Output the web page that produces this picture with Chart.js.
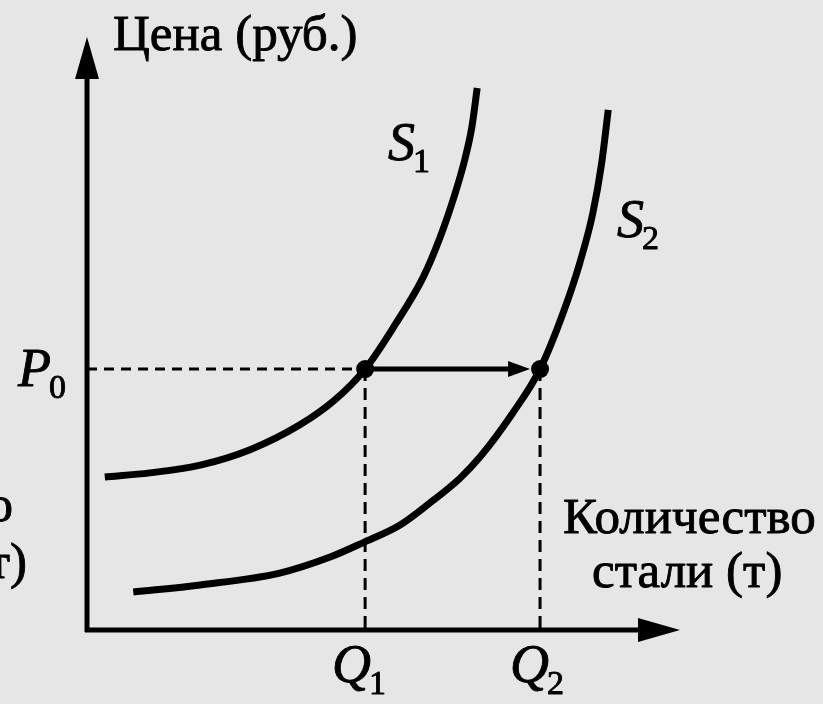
<!DOCTYPE html>
<html>
<head>
<meta charset="utf-8">
<script src="https://cdn.jsdelivr.net/npm/chart.js@4/dist/chart.umd.min.js"></script>
<style>
  html, body { margin: 0; padding: 0; background: #e6e6e6; }
  #wrap { width: 823px; height: 704px; }
</style>
</head>
<body>
<div id="wrap"><canvas id="supply"></canvas></div>
<script>
// кривые предложения (Q, P) в условных единицах
var s1Q = [0.30, 1.06, 1.91, 2.75, 3.59, 4.18, 4.69, 5.19, 5.67, 5.95, 6.21, 6.37, 6.49, 6.58];
var s1P = [2.58, 2.65, 2.78, 3.04, 3.46, 3.88, 4.40, 5.14, 5.95, 6.61, 7.37, 7.93, 8.48, 9.14];
var s2Q = [0.78, 1.91, 3.25, 4.10, 4.65, 5.28, 5.78, 6.29, 6.63, 7.18, 7.64, 8.03, 8.31, 8.53, 8.68, 8.79];
var s2P = [0.64, 0.76, 0.96, 1.23, 1.47, 1.77, 2.14, 2.56, 2.92, 3.66, 4.40, 5.35, 6.19, 7.03, 7.88, 8.77];

var p0 = 4.40;
var q1 = 4.69;
var q2 = 7.64;

var serif = '"Liberation Serif", "DejaVu Serif", serif';

function pts(xs, ys) {
  return xs.map(function (x, i) { return { x: x, y: ys[i] }; });
}

var diagram = {
  id: 'diagram',
  beforeDatasetsDraw: function (chart) {
    var c = chart.ctx, xs = chart.scales.x, ys = chart.scales.y;
    var x0 = xs.getPixelForValue(0), y0 = ys.getPixelForValue(0);
    var xEnd = xs.getPixelForValue(10), yEnd = ys.getPixelForValue(10);
    c.save();
    c.strokeStyle = '#000';
    c.fillStyle = '#000';
    c.lineWidth = 5;
    c.lineCap = 'butt';
    // ось цены
    c.beginPath();
    c.moveTo(x0, y0 + 2);
    c.lineTo(x0, yEnd + 30);
    c.stroke();
    c.beginPath();
    c.moveTo(x0, yEnd);
    c.lineTo(x0 - 12, yEnd + 42);
    c.lineTo(x0 + 12, yEnd + 42);
    c.closePath();
    c.fill();
    // ось количества
    c.beginPath();
    c.moveTo(x0 - 2, y0);
    c.lineTo(xEnd - 30, y0);
    c.stroke();
    c.beginPath();
    c.moveTo(xEnd, y0);
    c.lineTo(xEnd - 42, y0 - 12);
    c.lineTo(xEnd - 42, y0 + 12);
    c.closePath();
    c.fill();
    c.restore();
  },
  afterDatasetsDraw: function (chart) {
    var c = chart.ctx, xs = chart.scales.x, ys = chart.scales.y;
    var yP = ys.getPixelForValue(p0);
    var a = xs.getPixelForValue(q1), b = xs.getPixelForValue(q2) - 10;
    c.save();
    c.fillStyle = '#000';
    c.strokeStyle = '#000';
    // стрелка сдвига
    c.lineWidth = 5;
    c.beginPath();
    c.moveTo(a, yP);
    c.lineTo(b - 18, yP);
    c.stroke();
    c.beginPath();
    c.moveTo(b, yP);
    c.lineTo(b - 22, yP - 8);
    c.lineTo(b - 22, yP + 8);
    c.closePath();
    c.fill();

    // чуть утолщённый шрифт, как в печатном оригинале
    c.lineWidth = 0.9;
    c.lineJoin = 'round';
    function txt(s, x, y) {
      c.fillText(s, x, y);
      c.strokeText(s, x, y);
    }
    function sub(letter, index, x, y) {
      c.font = 'italic 54px ' + serif;
      c.textAlign = 'left';
      txt(letter, x, y);
      var w = c.measureText(letter).width;
      c.font = '34px ' + serif;
      txt(index, x + w - 2, y + 12);
    }
    c.textBaseline = 'alphabetic';
    sub('P', '0', 18, yP + 17);
    sub('Q', '1', a - 33, 682);
    sub('Q', '2', xs.getPixelForValue(q2) - 30, 682);
    sub('S', '1', 388, 160);
    sub('S', '2', 617, 237);

    c.font = '51px ' + serif;
    c.textAlign = 'left';
    txt('Цена (руб.)', 113, 50);
    txt('Количество', 563, 533);
    txt('стали (т)', 592, 587);
    c.textAlign = 'right';
    txt('Количество', 13, 521);
    txt('стали (т)', 27, 578);
    c.restore();
  }
};

new Chart(document.getElementById('supply'), {
  type: 'scatter',
  data: {
    datasets: [
      {
        label: 'S1',
        data: pts(s1Q, s1P),
        showLine: true,
        borderColor: '#000',
        borderWidth: 7,
        pointRadius: 0,
        cubicInterpolationMode: 'monotone'
      },
      {
        label: 'S2',
        data: pts(s2Q, s2P),
        showLine: true,
        borderColor: '#000',
        borderWidth: 7,
        pointRadius: 0,
        cubicInterpolationMode: 'monotone'
      },
      {
        label: 'P0',
        data: [{ x: 0, y: p0 }, { x: q1, y: p0 }],
        showLine: true,
        borderColor: '#000',
        borderWidth: 3,
        borderDash: [10, 7],
        pointRadius: 0
      },
      {
        label: 'Q1',
        data: [{ x: q1, y: p0 }, { x: q1, y: 0 }],
        showLine: true,
        borderColor: '#000',
        borderWidth: 3,
        borderDash: [12, 7],
        pointRadius: 0
      },
      {
        label: 'Q2',
        data: [{ x: q2, y: p0 }, { x: q2, y: 0 }],
        showLine: true,
        borderColor: '#000',
        borderWidth: 3,
        borderDash: [12, 7],
        pointRadius: 0
      },
      {
        label: 'E',
        data: [{ x: q1, y: p0 }, { x: q2, y: p0 }],
        showLine: false,
        pointRadius: 9,
        pointBackgroundColor: '#000',
        pointBorderWidth: 0
      }
    ]
  },
  options: {
    responsive: true,
    maintainAspectRatio: false,
    animation: false,
    layout: { padding: { left: 87, right: 143, top: 37, bottom: 74 } },
    plugins: { legend: { display: false }, tooltip: { enabled: false } },
    scales: {
      x: { type: 'linear', min: 0, max: 10, display: false },
      y: { type: 'linear', min: 0, max: 10, display: false }
    }
  },
  plugins: [diagram]
});
</script>
</body>
</html>
